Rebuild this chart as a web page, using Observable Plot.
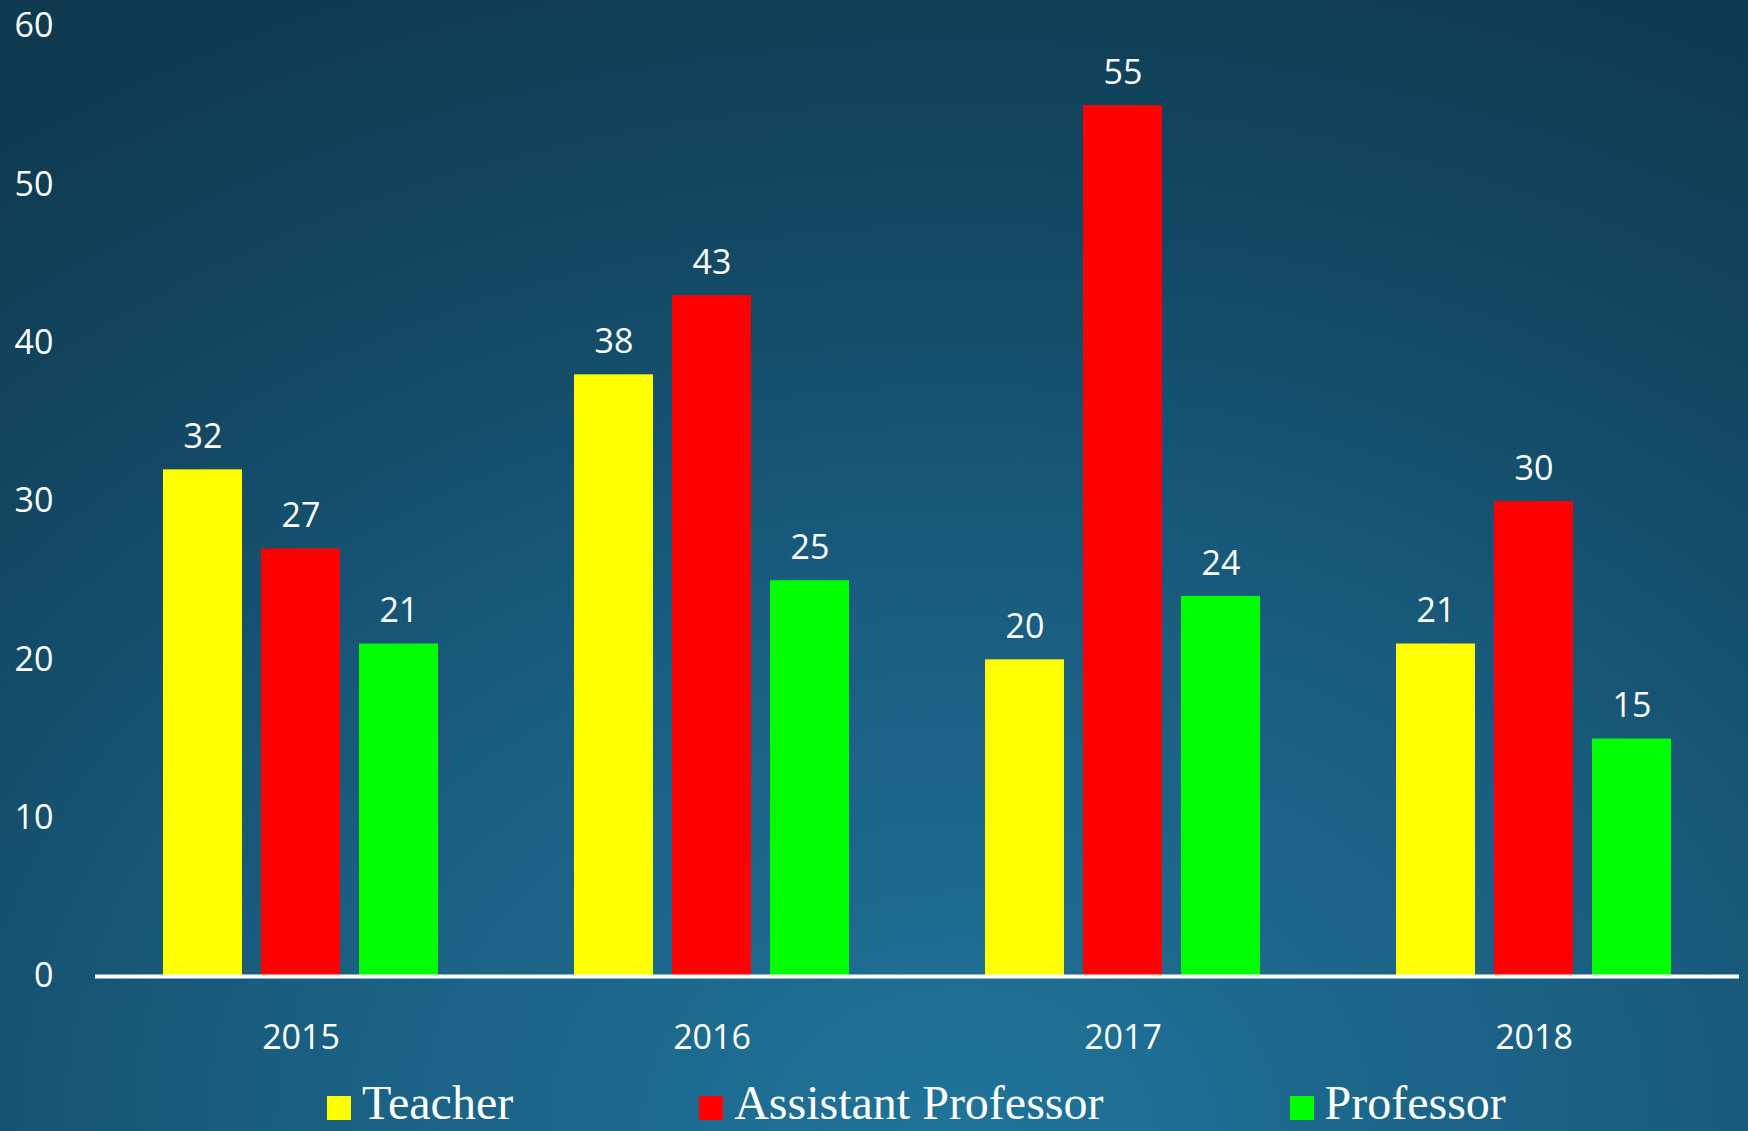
<!DOCTYPE html>
<html>
<head>
<meta charset="utf-8">
<script src="https://cdn.jsdelivr.net/npm/d3@7"></script>
<script src="https://cdn.jsdelivr.net/npm/@observablehq/plot@0.6"></script>
<style>
  html, body { margin: 0; padding: 0; }
  #wrap {
    position: relative; width: 1748px; height: 1131px; overflow: hidden;
    background: radial-gradient(ellipse 95% 110% at 55% 100%, #20739a 0%, #1a5f82 40%, #134a66 70%, #0f3a50 100%);
  }
  #chart { position: absolute; left: 0; top: 0; }
  #legend {
    position: absolute; left: 327px; top: 1079px;
    display: flex; align-items: flex-start; gap: 186px;
    font-family: "Liberation Serif", "Times New Roman", serif; font-size: 48px; line-height: 48px; color: white;
    white-space: nowrap;
  }
  .item { display: flex; align-items: flex-start; }
  .sw { width: 24px; height: 24px; margin-top: 17px; margin-right: 11px; }
</style>
</head>
<body>
<div id="wrap">
  <div id="chart"></div>
  <div id="legend"></div>
</div>
<script>
const years = ["2015", "2016", "2017", "2018"];
const series = ["Teacher", "Assistant Professor", "Professor"];
const teacher = [32, 38, 20, 21];
const assistantProfessor = [27, 43, 55, 30];
const professor = [21, 25, 24, 15];
const colors = ["#ffff00", "#ff0000", "#00ff00"];
const yTicks = [0, 10, 20, 30, 40, 50, 60];

const valuesBySeries = [teacher, assistantProfessor, professor];
const data = [];
years.forEach((yr, i) => {
  series.forEach((s, j) => data.push({year: yr, series: s, value: valuesBySeries[j][i]}));
});

const chart = Plot.plot({
  width: 1748,
  height: 1070,
  marginLeft: 94,
  marginRight: 9,
  marginTop: 26,
  marginBottom: 94,
  style: {background: "transparent", color: "white", fontSize: "34px", fontFamily: "'Open Sans', sans-serif"},
  fx: {domain: years, padding: 0, label: null, tickSize: 0, tickPadding: 48, axis: "bottom"},
  x: {domain: series, axis: null, paddingInner: 0.19, paddingOuter: 0.68},
  y: {domain: [0, 60], ticks: yTicks, tickSize: 0, tickPadding: 42, label: null, tickFormat: d => String(d)},
  color: {domain: series, range: colors},
  marks: [
    Plot.barY(data, {fx: "year", x: "series", y: "value", fill: "series"}),
    Plot.text(data, {fx: "year", x: "series", y: "value", text: d => String(d.value), fill: "white", lineAnchor: "bottom", dy: -22}),
    Plot.ruleY([0], {stroke: "white", strokeWidth: 4})
  ]
});
document.getElementById("chart").appendChild(chart);

const legend = document.getElementById("legend");
series.forEach((s, i) => {
  const item = document.createElement("div");
  item.className = "item";
  const sw = document.createElement("span");
  sw.className = "sw";
  sw.style.background = colors[i];
  const lab = document.createElement("span");
  lab.textContent = s;
  item.appendChild(sw);
  item.appendChild(lab);
  legend.appendChild(item);
});
</script>
</body>
</html>
